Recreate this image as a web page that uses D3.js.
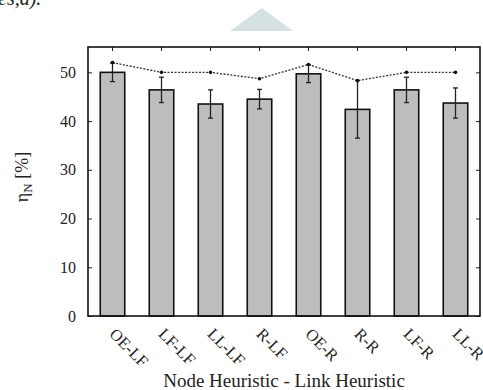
<!DOCTYPE html>
<html>
<head>
<meta charset="utf-8">
<script src="https://cdn.jsdelivr.net/npm/d3@7/dist/d3.min.js"></script>
<style>
  body { margin: 0; background: #fff; }
</style>
</head>
<body>
<svg width="483" height="390" font-family="'Liberation Serif', 'Times New Roman', serif"></svg>
<script>
  // data
  const categories = ['OE-LF', 'LF-LF', 'LL-LF', 'R-LF', 'OE-R', 'R-R', 'LF-R', 'LL-R'];
  const means = [50.0, 46.4, 43.5, 44.5, 49.7, 42.4, 46.4, 43.7];
  const errors = [1.9, 2.6, 2.9, 2.0, 1.8, 5.9, 2.6, 3.1];
  const maxima = [52.0, 50.0, 50.0, 48.7, 51.6, 48.3, 50.0, 50.0];
  const yTicks = [0, 10, 20, 30, 40, 50];

  const serif = "'Liberation Serif', 'Times New Roman', serif";
  const svg = d3.select('svg');
  const width = +svg.attr('width');
  const height = +svg.attr('height');

  const margin = { top: 47, right: 3, bottom: 74, left: 88 };
  const innerWidth = width - margin.left - margin.right;
  const innerHeight = height - margin.top - margin.bottom;

  // page decorations from the scan
  svg.append('path')
    .attr('d', 'M230,31 L262,8 L293,31 Z')
    .attr('fill', '#d6e1e4');
  svg.append('text')
    .attr('x', -2).attr('y', 5)
    .attr('font-family', serif)
    .attr('font-size', 20)
    .attr('font-style', 'italic')
    .attr('fill', '#222')
    .text('es,a).');

  const xScale = d3.scaleBand()
    .domain(categories)
    .range([0, innerWidth]);

  const yScale = d3.scaleLinear()
    .domain([0, 55.2])
    .range([innerHeight, 0]);

  const g = svg.append('g')
    .attr('transform', `translate(${margin.left},${margin.top})`);

  const cx = d => xScale(d) + xScale.bandwidth() / 2;
  const barW = xScale.bandwidth() * 0.5;

  // bars
  g.selectAll('.bar').data(categories).enter().append('rect')
    .attr('class', 'bar')
    .attr('x', d => cx(d) - barW / 2)
    .attr('y', (d, i) => yScale(means[i]))
    .attr('width', barW)
    .attr('height', (d, i) => innerHeight - yScale(means[i]))
    .attr('fill', '#bdbdbd')
    .attr('stroke', '#111')
    .attr('stroke-width', 1.6);

  // error bars
  const eb = g.selectAll('.err').data(categories).enter().append('g')
    .attr('class', 'err')
    .attr('stroke', '#222')
    .attr('stroke-width', 1.3);
  eb.append('line')
    .attr('x1', d => cx(d)).attr('x2', d => cx(d))
    .attr('y1', (d, i) => yScale(means[i] + errors[i]))
    .attr('y2', (d, i) => yScale(means[i] - errors[i]));
  [1, -1].forEach(s => {
    eb.append('line')
      .attr('x1', d => cx(d) - 2.5).attr('x2', d => cx(d) + 2.5)
      .attr('y1', (d, i) => yScale(means[i] + s * errors[i]))
      .attr('y2', (d, i) => yScale(means[i] + s * errors[i]));
  });

  // dotted line of maxima
  const line = d3.line()
    .x((d, i) => cx(categories[i]))
    .y(d => yScale(d));
  g.append('path')
    .attr('d', line(maxima))
    .attr('fill', 'none')
    .attr('stroke', '#333')
    .attr('stroke-width', 1.3)
    .attr('stroke-dasharray', '2,1.5');
  g.selectAll('.pt').data(maxima).enter().append('circle')
    .attr('cx', (d, i) => cx(categories[i]))
    .attr('cy', d => yScale(d))
    .attr('r', 1.8)
    .attr('fill', '#111');

  // axes
  const yAxis = d3.axisLeft(yScale).tickValues(yTicks).tickSize(-4).tickPadding(12);
  const yAxisG = g.append('g').call(yAxis).attr('font-family', serif).attr('font-size', 16);
  yAxisG.select('.domain').remove();
  yAxisG.selectAll('text').attr('fill', '#222');

  const yRight = d3.axisRight(yScale).tickValues(yTicks).tickSize(-4);
  const yRightG = g.append('g').attr('transform', `translate(${innerWidth},0)`).call(yRight);
  yRightG.select('.domain').remove();
  yRightG.selectAll('text').remove();

  const xTop = d3.axisTop(xScale).tickSize(-4);
  const xTopG = g.append('g').call(xTop);
  xTopG.select('.domain').remove();
  xTopG.selectAll('text').remove();

  const xBottom = d3.axisBottom(xScale).tickSize(0);
  const xAxisG = g.append('g').attr('transform', `translate(0,${innerHeight})`).call(xBottom)
    .attr('font-family', serif).attr('font-size', 16.5);
  xAxisG.select('.domain').remove();
  xAxisG.selectAll('.tick text')
    .attr('y', 0).attr('dy', 0)
    .attr('transform', 'translate(-4,19) rotate(45)')
    .attr('text-anchor', 'start')
    .attr('fill', '#222');

  g.selectAll('.tick line').attr('stroke', '#222');

  // frame
  g.append('rect')
    .attr('width', innerWidth)
    .attr('height', innerHeight)
    .attr('fill', 'none')
    .attr('stroke', '#111')
    .attr('stroke-width', 1.6);

  // axis titles
  const yLabel = svg.append('text')
    .attr('transform', `translate(28,177) rotate(-90)`)
    .attr('text-anchor', 'middle')
    .attr('font-family', serif)
    .attr('font-size', 18)
    .attr('fill', '#222');
  yLabel.append('tspan').text('η');
  yLabel.append('tspan').attr('font-size', 13).attr('dy', 4).text('N');
  yLabel.append('tspan').attr('dy', -4).text(' [%]');

  svg.append('text')
    .attr('x', 284)
    .attr('y', 387)
    .attr('text-anchor', 'middle')
    .attr('font-family', serif)
    .attr('font-size', 19)
    .attr('fill', '#222')
    .text('Node Heuristic - Link Heuristic');
</script>
</body>
</html>
